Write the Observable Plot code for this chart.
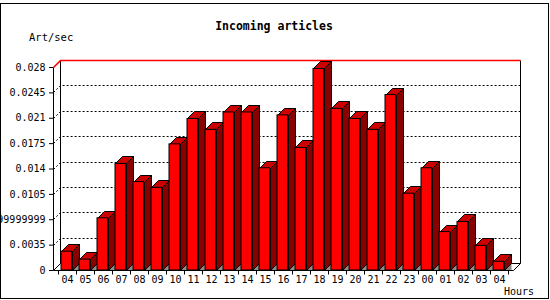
<!DOCTYPE html>
<html><head><meta charset="utf-8">
<script src="https://cdn.jsdelivr.net/npm/d3@7"></script>
<script src="https://cdn.jsdelivr.net/npm/@observablehq/plot@0.6"></script>
<style>
body{margin:0;background:#fff;}
#wrap{position:relative;width:550px;height:300px;overflow:hidden;font-family:"DejaVu Sans Mono",monospace;background:#fff;}
#chart{position:absolute;left:0;top:0;}
#frame{position:absolute;left:0;top:3px;width:547px;height:294px;border:1px solid #000;pointer-events:none;}
.lbl{position:absolute;white-space:nowrap;color:#000;line-height:1;}
</style></head><body>
<div id="wrap">
  <div id="chart"></div>
  <div class="lbl" style="left:0;width:548px;text-align:center;top:21px;font-size:11.5px;font-weight:bold;">Incoming articles</div>
  <div class="lbl" style="left:29px;top:32px;font-size:10.5px;">Art/sec</div>
  <div class="lbl" style="left:504px;top:287px;font-size:10px;">Hours</div>
  <div id="frame"></div>
</div>
<script>
// ---- data ----
const hours = ["04","05","06","07","08","09","10","11","12","13","14","15","16","17","18","19","20","21","22","23","00","01","02","03","04"];
const values = [0.0026,0.0015,0.0072,0.0147,0.0122,0.0114,0.0174,0.0209,0.0194,0.0218,0.0218,0.0141,0.0214,0.0169,0.0278,0.0223,0.0209,0.0194,0.0242,0.0106,0.0141,0.0053,0.0067,0.0034,0.0012];
const yTicks = [0,0.0035,0.007,0.0105,0.014,0.0175,0.021,0.0245,0.028];
const yTickLabels = ["0","0.0035","0.00699999999","0.0105","0.014","0.0175","0.021","0.0245","0.028"];

const data = values.map((v, i) => ({i, hour: hours[i], v}));
const D = 7;               // 3D depth in pixels
const INSET_L = 3, INSET_R = 4.4;
const NS = "http://www.w3.org/2000/svg";
function el(tag, attrs) {
  const e = document.createElementNS(NS, tag);
  for (const k in attrs) e.setAttribute(k, attrs[k]);
  return e;
}
const r = v => Math.round(v) + 0.5;

// back plane, gridlines and frame edges
function backPlane(index, scales, values, dims) {
  const y = scales.y;
  const x0 = dims.marginLeft, x1 = dims.width - dims.marginRight;
  const yb = y(0), yt = y(yTicks[yTicks.length - 1]);
  const g = el("g", {fill: "none"});
  for (const t of yTicks.slice(1, -1)) {
    const yy = r(y(t));
    g.append(el("path", {d: `M${r(x0)},${yy}L${r(x0)+D},${yy-D}H${r(x1)+D}`, stroke: "#000", "stroke-dasharray": "2,2"}));
  }
  g.append(el("path", {d: `M${r(x0)+D},${r(yt)-D}V${r(yb)-D}H${r(x1)+D}V${r(yt)-D}`, stroke: "#000"}));
  g.append(el("path", {d: `M${r(x0)},${r(yb)}L${r(x0)+D},${r(yb)-D}M${r(x1)},${r(yb)}L${r(x1)+D},${r(yb)-D}`, stroke: "#000"}));
  g.append(el("path", {d: `M${r(x0)},${r(yt)}L${r(x0)+D},${r(yt)-D}H${r(x1)+D}`, stroke: "#ff0000", "stroke-width": 1.6}));
  return g;
}

// side faces, top faces and floor shadows of the bars
function barDepth(index, scales) {
  const x = scales.x, y = scales.y;
  const bw = x.bandwidth ? x.bandwidth() : 18.4;
  const g = el("g", {});
  for (const d of data) {
    const xl = Math.round(x(d.i) + INSET_L) + 0.5;
    const xr = Math.round(x(d.i) + bw - INSET_R) + 0.5;
    const yt = Math.round(y(d.v)) + 0.5;
    const yb = Math.round(y(0)) + 0.5;
    g.append(el("path", {d: `M${xr},${yb}L${xr+D},${yb-D}V${yb}Z`, fill: "#8c8c8c"}));
    g.append(el("path", {d: `M${xr},${yb}V${yt}L${xr+D},${yt-D}V${yb-D}Z`, fill: "#880000", stroke: "#000"}));
    g.append(el("path", {d: `M${xl},${yt}L${xl+D},${yt-D}H${xr+D}L${xr},${yt}Z`, fill: "#cc0000", stroke: "#000"}));
  }
  return g;
}

// front axis lines and x ticks at band boundaries
function frontAxes(index, scales, values, dims) {
  const x = scales.x, y = scales.y;
  const bw = x.bandwidth ? x.bandwidth() : 18.4;
  const x0 = dims.marginLeft, x1 = dims.width - dims.marginRight;
  const g = el("g", {fill: "none", stroke: "#000"});
  g.append(el("path", {d: `M${r(x0)},${r(y(yTicks[yTicks.length-1]))}V${r(y(0))}H${r(x1)}`}));
  let dd = "";
  for (let i = 0; i <= hours.length; i++) {
    const xs = i < hours.length ? x(i) : x(i - 1) + bw;
    dd += `M${r(xs)},${r(y(0))}v4`;
  }
  g.append(el("path", {d: dd}));
  return g;
}

const chart = Plot.plot({
  width: 550,
  height: 300,
  marginLeft: 53,
  marginRight: 37,
  marginTop: 67,
  marginBottom: 30,
  style: {fontFamily: "'DejaVu Sans Mono', monospace", fontSize: "10px", color: "#000", background: "transparent", overflow: "visible"},
  x: {type: "band", domain: d3.range(hours.length), paddingInner: 0, paddingOuter: 0,
      tickSize: 0, tickPadding: 5, tickFormat: i => hours[i], label: null},
  y: {domain: [0, 0.028], ticks: yTicks, tickSize: 4, tickPadding: 4, label: null,
      tickFormat: d => yTickLabels[yTicks.findIndex(t => Math.abs(t - d) < 1e-9)]},
  marks: [
    backPlane,
    barDepth,
    Plot.barY(data, {x: "i", y: "v", fill: "#ff0000", stroke: "#000", insetLeft: INSET_L, insetRight: INSET_R}),
    frontAxes
  ]
});
document.getElementById("chart").append(chart);
</script>
</body></html>
